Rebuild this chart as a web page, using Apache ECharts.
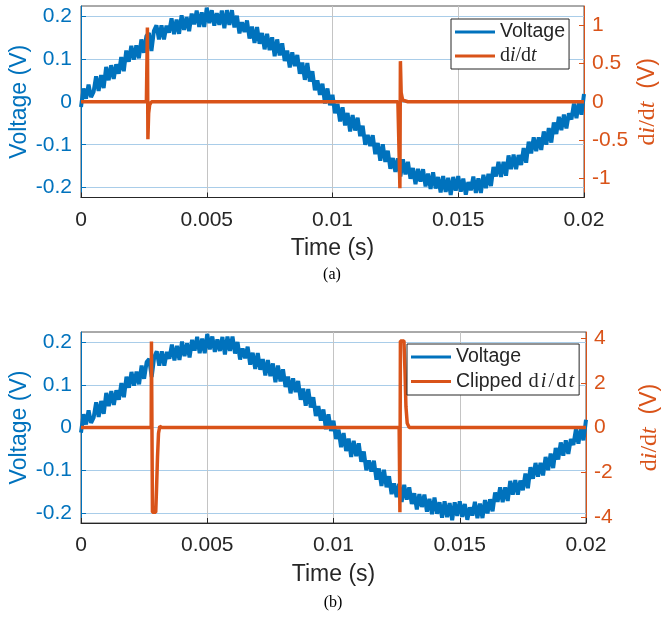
<!DOCTYPE html>
<html><head><meta charset="utf-8">
<script src="https://cdn.jsdelivr.net/npm/echarts@6/dist/echarts.min.js"></script>
<style>html,body{margin:0;padding:0;background:#fff}#c{width:661px;height:618px}</style>
</head><body><div id="c"></div>
<script>
// Measured voltage (V), one sample every 0.1 ms from t = 0 to 0.02 s
const sampleInterval = 0.0001;
const voltage = [
-0.012,0.031,0.007,0.040,0.011, 0.023,0.059,0.025,0.062,0.032,
0.081,0.050,0.085,0.053,0.087, 0.065,0.104,0.071,0.119,0.093,
0.130,0.098,0.131,0.101,0.145, 0.114,0.153,0.160,0.118,0.165,
0.178,0.145,0.178,0.145,0.177, 0.161,0.194,0.157,0.191,0.158,
0.201,0.167,0.197,0.164,0.205, 0.180,0.212,0.174,0.208,0.174,
0.219,0.183,0.213,0.177,0.206, 0.179,0.212,0.171,0.213,0.179,
0.213,0.173,0.200,0.159,0.185, 0.162,0.189,0.147,0.175,0.137,
0.174,0.135,0.160,0.122,0.158, 0.120,0.150,0.106,0.145,0.108,
0.136,0.095,0.119,0.080,0.115, 0.083,0.109,0.065,0.091,0.051,
0.090,0.047,0.071,0.027,0.050, 0.016,0.042,-0.004,0.031,-0.008,
0.016,-0.027,-0.005,-0.046,-0.013, -0.055,-0.026,-0.069,-0.031,-0.067,
-0.037,-0.080,-0.056,-0.100,-0.077, -0.103,-0.078,-0.122,-0.096,-0.137,
-0.099,-0.140,-0.114,-0.156,-0.131, -0.163,-0.132,-0.174,-0.134,-0.169,
-0.140,-0.179,-0.154,-0.192,-0.156, -0.186,-0.157,-0.197,-0.167,-0.203,
-0.164,-0.202,-0.175,-0.211,-0.173, -0.210,-0.177,-0.217,-0.175,-0.207,
-0.173,-0.209,-0.179,-0.216,-0.187, -0.206,-0.174,-0.212,-0.178,-0.212,
-0.170,-0.201,-0.168,-0.196,-0.152, -0.174,-0.140,-0.175,-0.140,-0.172,
-0.125,-0.157,-0.123,-0.157,-0.124, -0.147,-0.108,-0.142,-0.093,-0.120,
-0.083,-0.115,-0.083,-0.112,-0.069, -0.100,-0.061,-0.095,-0.048,-0.075,
-0.035,-0.066,-0.030,-0.062,-0.027, -0.041,-0.004,-0.038,0.000,-0.030,
0.018
];
// di/dt (panel a)
const diTimeA  = [0, 0.0026, 0.00264, 0.00266, 0.00269, 0.00273, 0.0028, 0.0126, 0.01268, 0.0127, 0.01273, 0.01277, 0.0128, 0.013, 0.02];
const diValueA = [0, 0, 0.97, -0.49, -0.15, -0.04, 0, 0, -1.13, 0.53, 0.12, 0.05, 0.02, 0, 0];
// clipped di/dt (panel b)
const diTimeB  = [0, 0.00278, 0.00279, 0.00283, 0.00296, 0.00299, 0.00303, 0.00307, 0.00312, 0.0032, 0.0126, 0.01263, 0.01265, 0.01279, 0.01283, 0.01287, 0.01292, 0.013, 0.02];
const diValueB = [0, 0, 3.85, -3.8, -3.8, -2.8, -1.32, -0.26, 0.05, 0, 0, -3.8, 3.88, 3.88, 2.57, 0.92, 0.19, 0, 0];

const xTicks = [0, 0.005, 0.01, 0.015, 0.02];
const voltTicks = [-0.2, -0.1, 0, 0.1, 0.2];
const diTicksA = [-1, -0.5, 0, 0.5, 1];
const diTicksB = [-4, -2, 0, 2, 4];
const seriesNames = ['Voltage', 'di/dt', 'Clipped di/dt'];

const BLUE = '#0072BD', ORANGE = '#D95319', DARK = '#262626';
const SANS = '"Liberation Sans", Arial, Helvetica, sans-serif';
const SERIF = '"Liberation Serif", "Times New Roman", serif';

const voltPairs = voltage.map((v, i) => [i * sampleInterval, v]);
const pairs = (t, v) => t.map((x, i) => [x, v[i]]);

const richMath = {
  s: {fontFamily: SANS, fontSize: 19.5, color: DARK},
  r: {fontFamily: SERIF, fontSize: 20, color: DARK},
  i: {fontFamily: SERIF, fontStyle: 'italic', fontSize: 20, color: DARK},
  R: {fontFamily: SERIF, fontSize: 20.5, color: DARK, padding: [0, 1, 0, 1]},
  I: {fontFamily: SERIF, fontStyle: 'italic', fontSize: 20.5, color: DARK, padding: [0, 1, 0, 1]}
};
const richAxis = {
  s: {fontFamily: SANS, fontSize: 23, color: ORANGE},
  r: {fontFamily: SERIF, fontSize: 24, color: ORANGE},
  i: {fontFamily: SERIF, fontStyle: 'italic', fontSize: 24, color: ORANGE}
};

function xAxis(g) {
  return {
    type: 'value', gridIndex: g, min: xTicks[0], max: xTicks[xTicks.length - 1], interval: 0.005,
    axisLine: {show: true, onZero: false, lineStyle: {color: DARK, width: 1}},
    axisTick: {show: true, inside: true, length: 5, lineStyle: {color: DARK}},
    axisLabel: {color: DARK, fontSize: 21, fontFamily: SANS, margin: 12},
    splitLine: {show: true, lineStyle: {color: '#c4c4c4', width: 1}},
    name: 'Time (s)', nameLocation: 'middle', nameGap: 40, nameMoveOverlap: false,
    nameTextStyle: {color: DARK, fontSize: 23, fontFamily: SANS}
  };
}
function yLeft(g, lim) {
  return {
    type: 'value', gridIndex: g, position: 'left', min: -lim, max: lim,
    axisLine: {show: true, onZero: false, lineStyle: {color: BLUE, width: 1}},
    axisTick: {show: true, inside: true, length: 5, customValues: voltTicks, lineStyle: {color: BLUE}},
    axisLabel: {customValues: voltTicks, color: BLUE, fontSize: 21, fontFamily: SANS, margin: 9},
    splitLine: {show: true, lineStyle: {color: '#a9cde9', width: 1}},
    name: 'Voltage (V)', nameLocation: 'middle', nameRotate: 90, nameGap: 50, nameMoveOverlap: false,
    nameTextStyle: {color: BLUE, fontSize: 23, fontFamily: SANS}
  };
}
function yRight(g, lim, ticks) {
  return {
    type: 'value', gridIndex: g, position: 'right', min: -lim, max: lim,
    axisLine: {show: true, onZero: false, lineStyle: {color: ORANGE, width: 1}},
    axisTick: {show: true, inside: true, length: 5, customValues: ticks, lineStyle: {color: ORANGE}},
    axisLabel: {customValues: ticks, color: ORANGE, fontSize: 21, fontFamily: SANS, margin: 8},
    splitLine: {show: false},
    name: '{r|d}{i|i}{r|/d}{i|t}{s|  (V)}', nameLocation: 'middle', nameRotate: 90, nameGap: 52, nameMoveOverlap: false,
    nameTextStyle: {color: ORANGE, rich: richAxis}
  };
}
function legend(left, top, names) {
  return {
    data: names.map(n => ({name: n, icon: 'rect'})), left: left, top: top, orient: 'vertical',
    itemWidth: 40, itemHeight: 3, itemGap: 4, padding: [3, 4, 3, 4],
    backgroundColor: '#fff', borderColor: DARK, borderWidth: 1, borderRadius: 0,
    selectedMode: false,
    textStyle: {rich: richMath, fontSize: 19.5, lineHeight: 20},
    formatter: function (n) {
      if (n === 'Voltage') return '{s|Voltage}';
      if (n === 'di/dt') return '{r|d}{i|i}{r|/d}{i|t}';
      return '{s|Clipped }{R|d}{I|i}{R|/}{R|d}{I|t}';
    }
  };
}

const chart = echarts.init(document.getElementById('c'), null, {renderer: 'canvas'});
chart.setOption({
  animation: false,
  backgroundColor: '#fff',
  grid: [
    {left: 81, top: 6, width: 503, height: 191.5, show: true, borderColor: '#555', borderWidth: 1, containLabel: false, outerBoundsMode: 'none'},
    {left: 81, top: 332, width: 505, height: 191, show: true, borderColor: '#555', borderWidth: 1, containLabel: false, outerBoundsMode: 'none'}
  ],
  xAxis: [xAxis(0), xAxis(1)],
  yAxis: [yLeft(0, 0.2228), yRight(0, 1.25, diTicksA), yLeft(1, 0.2235), yRight(1, 4.28, diTicksB)],
  legend: [legend(451, 19, [seriesNames[0], seriesNames[1]]), legend(407, 344, [seriesNames[0], seriesNames[2]])],
  series: [
    {name: seriesNames[0], type: 'line', xAxisIndex: 0, yAxisIndex: 0, data: voltPairs, showSymbol: false, symbol: 'none', z: 2,
     lineStyle: {color: BLUE, width: 4, join: 'bevel'}, itemStyle: {color: BLUE}},
    {name: seriesNames[1], type: 'line', xAxisIndex: 0, yAxisIndex: 1, data: pairs(diTimeA, diValueA), showSymbol: false, symbol: 'none', z: 3,
     lineStyle: {color: ORANGE, width: 3.5}, itemStyle: {color: ORANGE}},
    {name: seriesNames[0], type: 'line', xAxisIndex: 1, yAxisIndex: 2, data: voltPairs, showSymbol: false, symbol: 'none', z: 2,
     lineStyle: {color: BLUE, width: 4, join: 'bevel'}, itemStyle: {color: BLUE}},
    {name: seriesNames[2], type: 'line', xAxisIndex: 1, yAxisIndex: 3, data: pairs(diTimeB, diValueB), showSymbol: false, symbol: 'none', z: 3,
     lineStyle: {color: ORANGE, width: 3.5}, itemStyle: {color: ORANGE}}
  ],
  graphic: [
    {type: 'text', x: 332, y: 275, style: {text: '(a)', font: '16px "Liberation Serif", serif', fill: '#000', align: 'center', verticalAlign: 'middle'}},
    {type: 'text', x: 333, y: 603, style: {text: '(b)', font: '16px "Liberation Serif", serif', fill: '#000', align: 'center', verticalAlign: 'middle'}}
  ]
});
</script></body></html>
